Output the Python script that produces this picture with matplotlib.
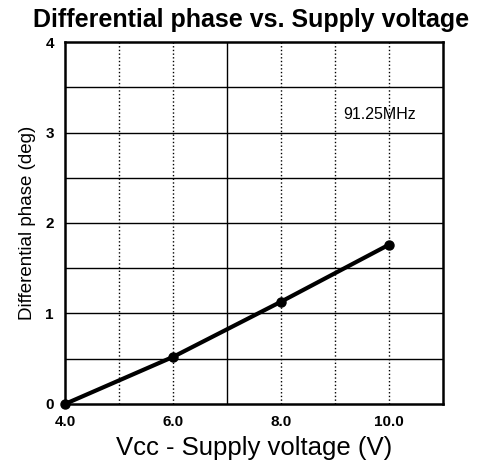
import matplotlib
matplotlib.use('Agg')
import matplotlib.pyplot as plt

# Data
vcc = [4.0, 6.0, 8.0, 10.0]
diff_phase = [0.0, 0.52, 1.13, 1.76]
x_ticks = [4.0, 6.0, 8.0, 10.0]
x_tick_labels = ['4.0', '6.0', '8.0', '10.0']
y_ticks = [0, 1, 2, 3, 4]
freq_label = '91.25MHz'

plt.rcParams['font.family'] = ['Liberation Sans', 'DejaVu Sans']

fig = plt.figure(figsize=(4.82, 4.67), dpi=100)
ax = fig.add_axes([0.135, 0.135, 0.784, 0.775])

# grid: solid horizontals every 0.5, dotted verticals every 1 V
for yv in [0.5 * i for i in range(1, 8)]:
    ax.axhline(yv, color='black', linewidth=1.0, zorder=1)
for xv in range(5, 11):
    style = '-' if xv in (7,) else ':'
    ax.axvline(xv, color='black', linewidth=1.0, linestyle=style, zorder=1)

ax.plot(vcc, diff_phase, color='black', linewidth=3.0, marker='o',
        markersize=6.5, zorder=3, clip_on=False)

ax.text(9.82, 3.2, freq_label, fontsize=11.5, ha='center', va='center')

ax.set_xlim(4, 11)
ax.set_ylim(0, 4)
ax.set_xticks(x_ticks)
ax.set_xticklabels(x_tick_labels, fontsize=11, fontweight='bold')
ax.set_yticks(y_ticks)
ax.set_yticklabels([str(v) for v in y_ticks], fontsize=11, fontweight='bold')
ax.tick_params(length=0, pad=8)

for sp in ax.spines.values():
    sp.set_linewidth(1.8)

fig.text(0.52, 0.957, 'Differential phase vs. Supply voltage', fontsize=18,
         fontweight='bold', ha='center', va='center')
ax.set_xlabel('Vcc - Supply voltage (V)', fontsize=18.5, labelpad=5)
ax.set_ylabel('Differential phase (deg)', fontsize=13.5, labelpad=7)

plt.savefig('out.png', dpi=100)
